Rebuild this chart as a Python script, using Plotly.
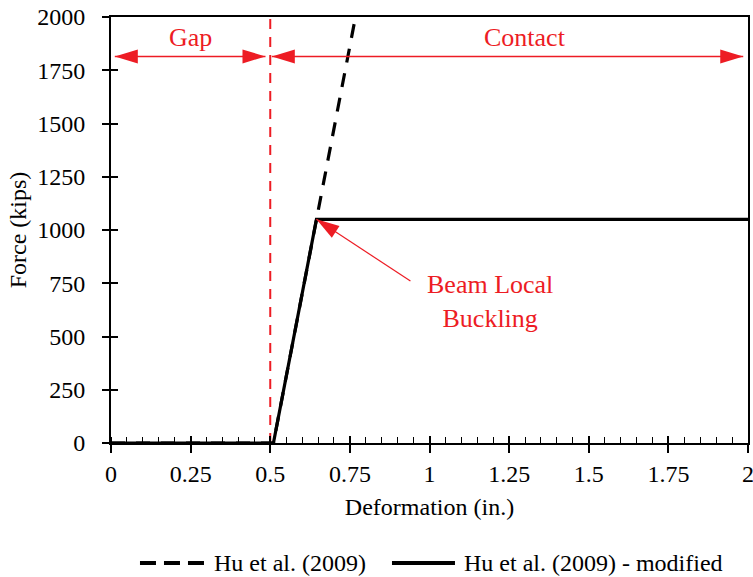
import numpy as np
import plotly.graph_objects as go

# Force-deformation backbone curves (deformation in inches, force in kips)
hu_x = [0.0, 0.51, 0.765]
hu_y = [0, 0, 1980]
mod_x = [0.0, 0.51, 0.645, 2.0]
mod_y = [0, 0, 1050, 1050]

series_names = ["Hu et al. (2009)", "Hu et al. (2009) - modified"]

# Gap / contact regions
gap_edge = 0.5
gap_span = [0.012, 0.485]
contact_span = [0.505, 1.985]
span_level = 1815
buckling_point = (0.645, 1050)

x_ticks = [0, 0.25, 0.5, 0.75, 1, 1.25, 1.5, 1.75, 2]
x_tick_text = ["0", "0.25", "0.5", "0.75", "1", "1.25", "1.5", "1.75", "2"]
y_ticks = [0, 250, 500, 750, 1000, 1250, 1500, 1750, 2000]

RED = "#ED1C24"
FONT = "Liberation Serif"

fig = go.Figure()

fig.add_trace(go.Scatter(
    x=[gap_edge, gap_edge], y=[0, 2000], mode="lines",
    line=dict(color=RED, width=2, dash="10px,8px"),
    showlegend=False, hoverinfo="skip"))
fig.add_trace(go.Scatter(
    x=hu_x, y=hu_y, mode="lines", name=series_names[0],
    line=dict(color="black", width=3.2, dash="14px,11px"),
    showlegend=False))
fig.add_trace(go.Scatter(
    x=mod_x, y=mod_y, mode="lines", name=series_names[1],
    line=dict(color="black", width=3.2),
    showlegend=False))
# companion axes carrying the inner half of the tick marks
fig.add_trace(go.Scatter(x=[0.0], y=[0.0], xaxis="x2", yaxis="y2", mode="markers",
                         marker=dict(opacity=0), showlegend=False, hoverinfo="skip"))

shapes = []


def tri(direction, length=23, half=7):
    """Triangle arrowhead path with tip at the origin; direction is the
    screen-space unit vector the arrow points along (y down)."""
    dx, dy = direction
    ux, uy = dx, -dy
    bx, by = -ux * length, -uy * length
    px, py = -uy * half, ux * half
    return "M0,0 L{:.2f},{:.2f} L{:.2f},{:.2f} Z".format(
        bx + px, by + py, bx - px, by - py)


def head(x, y, direction):
    shapes.append(dict(
        type="path", xref="x", yref="y", xsizemode="pixel", ysizemode="pixel",
        xanchor=x, yanchor=y, path=tri(direction),
        fillcolor=RED, line=dict(width=0), layer="above"))


# double-headed span arrows
for span in (gap_span, contact_span):
    shapes.append(dict(type="line", xref="x", yref="y",
                       x0=span[0], x1=span[1], y0=span_level, y1=span_level,
                       line=dict(color=RED, width=1.5)))
    head(span[0], span_level, (-1, 0))
    head(span[1], span_level, (1, 0))

# leader to the buckling point
tail = np.array([94.0, 61.6])  # screen offset of the leader tail from the tip
shapes.append(dict(type="line", xref="x", yref="y",
                   xsizemode="pixel", ysizemode="pixel",
                   xanchor=buckling_point[0], yanchor=buckling_point[1],
                   x0=0, y0=0, x1=tail[0], y1=-tail[1],
                   line=dict(color=RED, width=1.2)))
d = -tail / np.linalg.norm(tail)
head(buckling_point[0], buckling_point[1], (d[0], d[1]))

# legend samples
legend_y = -0.2817
shapes.append(dict(type="line", xref="paper", yref="paper",
                   x0=0.0455, x1=0.1507, y0=legend_y, y1=legend_y,
                   line=dict(color="black", width=4, dash="16px,8px")))
shapes.append(dict(type="line", xref="paper", yref="paper",
                   x0=0.4411, x1=0.540, y0=legend_y, y1=legend_y,
                   line=dict(color="black", width=4)))

annotations = [
    dict(x=float(np.mean(gap_span)), y=span_level, text="Gap", showarrow=False,
         yanchor="bottom", yshift=2, font=dict(color=RED, size=26, family=FONT)),
    dict(x=1.3, y=span_level, text="Contact", showarrow=False,
         yanchor="bottom", yshift=2, font=dict(color=RED, size=26, family=FONT)),
    dict(x=1.19, y=663, text="Beam Local<br>Buckling", showarrow=False,
         font=dict(color=RED, size=26, family=FONT)),
    dict(xref="paper", yref="paper", x=0.1586, y=legend_y, text=series_names[0],
         showarrow=False, xanchor="left", yanchor="middle",
         font=dict(size=24, family=FONT, color="black")),
    dict(xref="paper", yref="paper", x=0.551, y=legend_y, text=series_names[1],
         showarrow=False, xanchor="left", yanchor="middle",
         font=dict(size=24, family=FONT, color="black")),
]

fig.update_layout(
    width=753, height=577,
    margin=dict(l=111, r=5, t=17, b=134, autoexpand=False),
    plot_bgcolor="white", paper_bgcolor="white",
    font=dict(family=FONT, size=24, color="black"),
    showlegend=False,
    xaxis=dict(range=[0, 2], tickmode="array", tickvals=x_ticks, ticktext=x_tick_text,
               ticks="outside", ticklen=8, tickwidth=1.5, tickcolor="black",
               showline=True, linecolor="black", linewidth=2, mirror=True,
               showgrid=False, zeroline=False, automargin=False,
               ticklabeloverflow="allow", tickfont=dict(family=FONT, size=24),
               title=dict(text="Deformation (in.)", standoff=12,
                          font=dict(family=FONT, size=24)),
               minor=dict(ticks="inside", tickmode="linear", tick0=0, dtick=0.05,
                          ticklen=6, tickwidth=1.2, tickcolor="black", showgrid=False)),
    xaxis2=dict(overlaying="x", anchor="y", side="bottom", range=[0, 2],
                tickmode="array", tickvals=x_ticks, ticks="inside", ticklen=7,
                tickwidth=1.5, tickcolor="black", showticklabels=False,
                showline=False, showgrid=False, zeroline=False, automargin=False),
    yaxis=dict(range=[0, 2000], tickmode="array", tickvals=y_ticks,
               ticks="outside", ticklen=7, tickwidth=1.5, tickcolor="black",
               showline=True, linecolor="black", linewidth=2, mirror=True,
               showgrid=False, zeroline=False, ticklabelstandoff=12, automargin=False,
               tickfont=dict(family=FONT, size=24),
               title=dict(text="Force (kips)", standoff=4,
                          font=dict(family=FONT, size=24))),
    yaxis2=dict(overlaying="y", anchor="x", side="left", range=[0, 2000],
                tickmode="array", tickvals=y_ticks, ticks="inside", ticklen=7,
                tickwidth=1.5, tickcolor="black", showticklabels=False,
                showline=False, showgrid=False, zeroline=False, automargin=False),
    shapes=shapes,
    annotations=annotations,
)

fig.write_html("out.html")
